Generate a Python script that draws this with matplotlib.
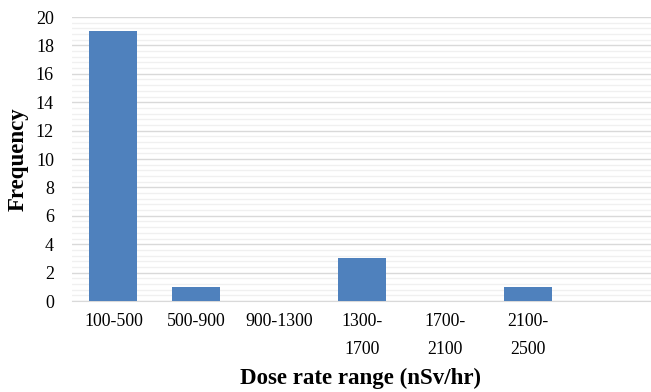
import numpy as np
import matplotlib
matplotlib.use("Agg")
from matplotlib import pyplot as plt
from matplotlib.ticker import MultipleLocator

# dose rate bins and counts
categories = ["100-500", "500-900", "900-1300", "1300-\n1700", "1700-\n2100", "2100-\n2500", ""]
frequency = [19, 1, 0, 3, 0, 1, 0]

plt.rcParams['font.family'] = ['Liberation Serif', 'DejaVu Serif']

fig = plt.figure(figsize=(6.51, 3.92), dpi=100)
ax = fig.add_axes([72 / 651, 1 - 301 / 392, 580 / 651, 284 / 392])

x = np.arange(len(categories))
ax.bar(x, frequency, width=0.58, color='#4F81BD', zorder=3)

ax.set_xlim(-0.5, len(categories) - 0.5)
ax.set_ylim(0, 20)
ax.yaxis.set_major_locator(MultipleLocator(2))
ax.yaxis.set_minor_locator(MultipleLocator(0.4))
ax.grid(axis='y', which='major', color='#D9D9D9', linewidth=1.0, zorder=0)
ax.grid(axis='y', which='minor', color='#F0F0F0', linewidth=1.0, zorder=0)

ax.set_xticks(x)
ax.set_xticklabels(categories, fontsize=12.8, linespacing=1.8, va='top')
ax.tick_params(axis='y', labelsize=13, length=0, pad=13, which='both')
ax.tick_params(axis='x', length=0, pad=9)
ax.tick_params(axis='y', which='minor', length=0)

for s in ['top', 'right', 'left']:
    ax.spines[s].set_visible(False)
ax.spines['bottom'].set_color('#D9D9D9')

ax.set_ylabel('Frequency', fontsize=16.5, fontweight='bold')
ax.yaxis.set_label_coords(-54 / 580, 0.5)
ax.set_xlabel('Dose rate range (nSv/hr)', fontsize=16.5, fontweight='bold')
ax.xaxis.set_label_coords(289 / 580, -(378 - 301) / 284)
ax.xaxis.label.set_va('center')
ax.yaxis.label.set_va('center')

fig.savefig('out.png', dpi=100)
